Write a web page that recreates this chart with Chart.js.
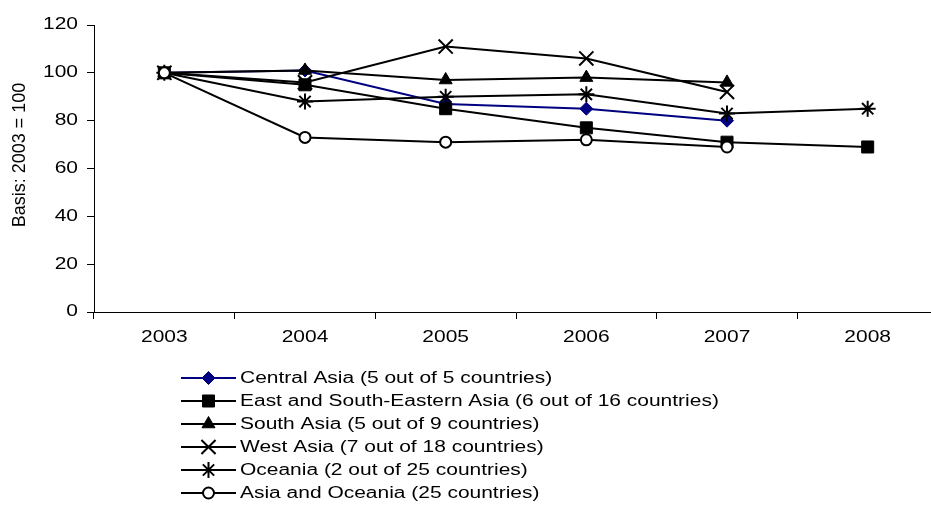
<!DOCTYPE html>
<html><head><meta charset="utf-8">
<script src="https://cdn.jsdelivr.net/npm/chart.js@4.4.0/dist/chart.umd.min.js"></script>
<style>
html,body{margin:0;padding:0;background:#fff;overflow:hidden;width:931px;height:509px;}
#wrap{position:relative;width:950px;height:509px;}
canvas{display:block;}
</style></head><body>
<div id="wrap"><canvas id="c" width="950" height="509"></canvas></div>
<script>
// ---- data ----
const years = ['2003', '2004', '2005', '2006', '2007', '2008'];
const centralAsia       = [100, 101, 87, 85, 80, null];
const eastSouthEastAsia = [100, 95, 85, 77, 71, 69];
const southAsia         = [100, 101, 97, 98, 96, null];
const westAsia          = [100, 96, 111, 106, 92, null];
const oceania           = [100, 88, 90, 91, 83, 85];
const asiaOceania       = [100, 73, 71, 72, 69, null];
const seriesNames = [
  'Central Asia (5 out of 5 countries)',
  'East and South-Eastern Asia (6 out of 16 countries)',
  'South Asia (5 out of 9 countries)',
  'West Asia (7 out of 18 countries)',
  'Oceania (2 out of 25 countries)',
  'Asia and Oceania (25 countries)'
];
const yTicks = [0, 20, 40, 60, 80, 100, 120];
const yTitle = 'Basis: 2003 = 100';

const FONT = "'Liberation Sans', Arial, sans-serif";
const TEXT_SX = 1.31; // horizontal stretch of text seen in the reference

const styles = [
  {color:'#000080', fill:'#000080', pointStyle:'rectRot', radius:6.5, bw:1},
  {color:'#000000', fill:'#000000', pointStyle:'rect', radius:8.5, bw:1},
  {color:'#000000', fill:'#000000', pointStyle:'triangle', radius:7.5, bw:1},
  {color:'#000000', fill:'#000000', pointStyle:'crossRot', radius:10, bw:2},
  {color:'#000000', fill:'#000000', pointStyle:'star', radius:8, bw:2},
  {color:'#000000', fill:'#ffffff', pointStyle:'circle', radius:5.5, bw:2}
];
const seriesData = [centralAsia, eastSouthEastAsia, southAsia, westAsia, oceania, asiaOceania];

const canvas = document.getElementById('c');
const c2d = canvas.getContext('2d');
const nativeFillText = CanvasRenderingContext2D.prototype.fillText;
c2d.fillText = function (text, x, y, maxWidth) {
  if (this._noStretch) {
    return maxWidth === undefined ? nativeFillText.call(this, text, x, y) : nativeFillText.call(this, text, x, y, maxWidth);
  }
  const m = this.getTransform();
  const dx = m.a * x + m.c * y + m.e, dy = m.b * x + m.d * y + m.f;
  this.save();
  this.setTransform(1, 0, 0, 1, 0, 0);
  this.translate(dx, dy);
  this.scale(TEXT_SX, 1);
  this.transform(m.a, m.b, m.c, m.d, 0, 0);
  if (maxWidth === undefined) nativeFillText.call(this, text, 0, 0);
  else nativeFillText.call(this, text, 0, 0, maxWidth / TEXT_SX);
  this.restore();
};

const datasets = seriesData.map((d, i) => ({
  label: seriesNames[i],
  data: d,
  borderColor: styles[i].color,
  borderWidth: 2,
  backgroundColor: styles[i].fill,
  pointStyle: styles[i].pointStyle,
  pointRadius: styles[i].radius,
  pointHoverRadius: styles[i].radius,
  pointBackgroundColor: styles[i].fill,
  pointBorderColor: styles[i].color,
  pointBorderWidth: styles[i].bw,
  tension: 0,
  fill: false,
  spanGaps: false,
  order: 10 - i
}));

const customLegend = {
  id: 'customLegend',
  afterDraw(chart) {
    const ctx = chart.ctx;
    ctx.save();
    const x0 = 181, x1 = 236, xm = 208.5, xt = 240, y0 = 378, dy = 23;
    chart.data.datasets.forEach((ds, i) => {
      const y = y0 + i * dy;
      ctx.strokeStyle = ds.borderColor;
      ctx.lineWidth = 2;
      ctx.beginPath();
      ctx.moveTo(x0, y); ctx.lineTo(x1, y);
      ctx.stroke();
      ctx.fillStyle = ds.pointBackgroundColor;
      ctx.strokeStyle = ds.pointBorderColor;
      ctx.lineWidth = ds.pointBorderWidth;
      Chart.helpers.drawPoint(ctx, {pointStyle: ds.pointStyle, radius: ds.pointRadius, borderWidth: ds.pointBorderWidth, rotation: 0}, xm, y);
      ctx.fillStyle = '#000';
      ctx.font = '16px ' + FONT;
      ctx.textAlign = 'left';
      ctx.textBaseline = 'middle';
      ctx.fillText(ds.label, xt, y + 1);
    });
    // y axis title
    ctx._noStretch = true;
    ctx.translate(20, 155);
    ctx.rotate(-Math.PI / 2);
    ctx.textAlign = 'center';
    ctx.textBaseline = 'middle';
    ctx.fillStyle = '#000';
    ctx.font = '18px ' + FONT;
    ctx.fillText(yTitle, 0, 0);
    ctx._noStretch = false;
    ctx.restore();
  }
};

new Chart(canvas, {
  type: 'line',
  data: { labels: years, datasets },
  options: {
    responsive: false,
    animation: false,
    devicePixelRatio: 1,
    layout: { padding: { left: 0, right: 8, top: 25, bottom: 157 } },
    plugins: { legend: { display: false }, tooltip: { enabled: false } },
    events: [],
    scales: {
      x: {
        type: 'category',
        offset: true,
        grid: { display: true, offset: true, drawOnChartArea: false, drawTicks: true, tickLength: 7, color: '#000', lineWidth: 1 },
        border: { display: true, color: '#000', width: 1 },
        ticks: { color: '#000', font: { family: FONT, size: 16 }, padding: 9, maxRotation: 0, autoSkip: false },
        afterFit(s) { s.height = 40; }
      },
      y: {
        min: 0, max: 120,
        afterBuildTicks(s) { s.ticks = yTicks.map(v => ({ value: v })); },
        grid: { display: true, drawOnChartArea: false, drawTicks: true, tickLength: 7, color: '#000', lineWidth: 1 },
        border: { display: true, color: '#000', width: 1 },
        ticks: { color: '#000', font: { family: FONT, size: 16 }, padding: 9 },
        afterFit(s) { s.width = 94; }
      }
    }
  },
  plugins: [customLegend]
});
</script>
</body></html>
